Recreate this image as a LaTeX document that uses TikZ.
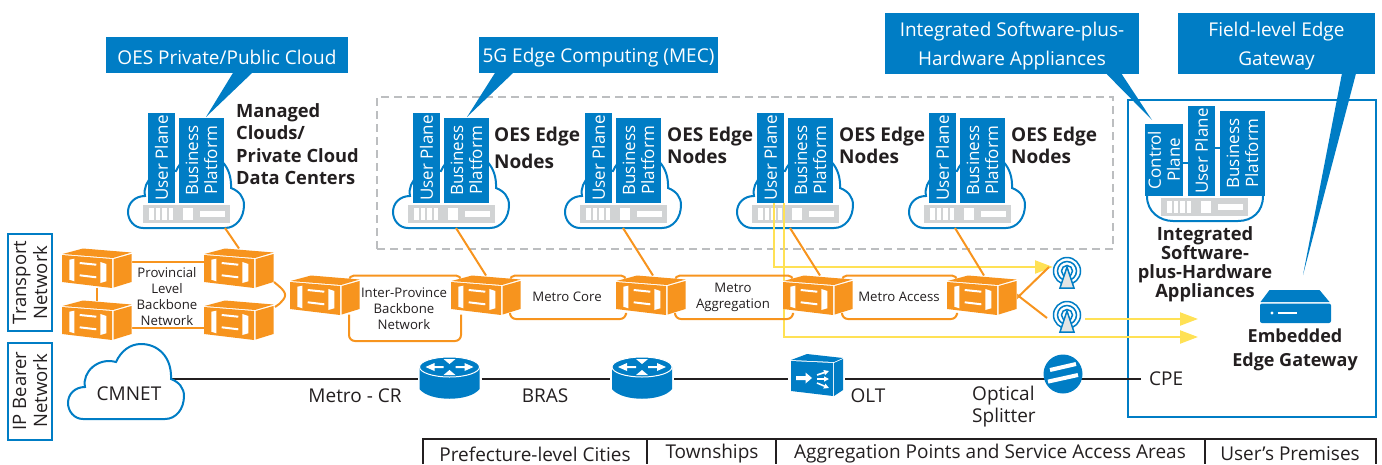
\documentclass[tikz,border=0pt]{standalone}
\usepackage{fontspec}
\setmainfont{Open Sans}
\usepackage{xcolor}
\usetikzlibrary{arrows.meta}

\definecolor{oesblue}{HTML}{007DC5}
\definecolor{oesorange}{HTML}{F7941E}
\definecolor{oesyellow}{HTML}{FFE155}
\definecolor{oesgrey}{HTML}{D1D3D4}
\definecolor{oesdash}{HTML}{BCBEC0}
\definecolor{oesink}{HTML}{231F20}

\newcommand{\calstrut}{\rule{0pt}{20pt}}

\tikzset{
  txt/.style={inner sep=0,text=oesink,align=center,font=\fontsize{19}{22}\selectfont},
  smalltxt/.style={txt,font=\fontsize{13.2}{16}\selectfont},
  boldtxt/.style={txt,font=\fontsize{18.3}{22.4}\selectfont\bfseries},
  edgetxt/.style={txt,anchor=west,align=left,font=\fontsize{19}{22}\selectfont\bfseries},
  bluebox/.style={fill=oesblue,text=white,inner sep=0,align=center,font=\fontsize{17}{19}\selectfont},
  callout/.style={fill=oesblue,text=white,inner sep=0,align=center,font=\fontsize{19}{29}\selectfont},
  sidebox/.style={draw=oesblue,line width=2pt,inner sep=0,align=center,text=oesink,
    minimum width=97pt,minimum height=44pt,rotate=90,font=\fontsize{18.5}{21}\selectfont},
  blueline/.style={draw=oesblue,line width=2pt},
  orangeline/.style={draw=oesorange,line width=2pt},
  yellowline/.style={draw=oesyellow,line width=2.2pt},
  yellowarrow/.style={yellowline,-{Triangle[length=18pt,width=13pt]}},
  wireline/.style={draw=oesink,line width=2pt},
  tableline/.style={draw=oesink,line width=2pt},
  ghost/.style={inner sep=0,outer sep=0},
  % orange transport box, origin in its middle
  switchbox/.pic={
    \node[ghost,minimum width=70pt,minimum height=39pt] (-n) {};
    \fill[white] (-35,-14) -- (-14,-19.5) -- (35,-15.5) -- (35,14) -- (16,20) -- (-35,14) -- cycle;
    \fill[oesorange] (-35,-13) -- (15,-9) -- (15,20) -- (-35,14) -- cycle;
    \fill[oesorange] (-34.5,-14) -- (-14,-19.5) -- (34.5,-15.5) -- (16,-10) -- cycle;
    \fill[oesorange] (16.7,-9) -- (34.5,-14) -- (34.5,14) -- (16.7,19.5) -- cycle;
    \fill[white] (-27.7,-8.3) -- (-22.7,-9.3) -- (-22.7,13.3) -- (-27.7,11.7) -- cycle;
    \fill[white] (3.3,-6) -- (9.3,-4) -- (9.3,13.3) -- (3.3,15) -- cycle;
    \draw[white,line width=2pt] (-17.3,-5) -- (-.7,-3.3);
    \draw[white,line width=2pt] (-17.3,7.3) -- (-.7,9.3);
  },
  % cloud outline, origin at its lower left
  cloudpic/.pic={
    \node[ghost,minimum width=116pt,minimum height=75pt] (-n) at (58,-37.5) {};
    \draw[blueline,fill=white] (15,0) .. controls (6,0) and (0,-8) .. (0,-16)
      .. controls (0,-25) and (7,-32) .. (17,-32)
      .. controls (14,-47) and (30,-62) .. (48,-57)
      .. controls (53,-68) and (62,-75) .. (73,-75)
      .. controls (90,-75) and (104,-62) .. (103,-40)
      .. controls (111,-37) and (116,-31) .. (116,-23)
      .. controls (116,-10) and (108,0) .. (97,0) -- cycle;
  },
  % grey server front, origin at the lower left of the bar
  serverbar/.pic={
    \fill[oesgrey] (0,-18) rectangle (87,0);
    \foreach \sx in {6,12.5,19,25.5}
      \fill[white] (\sx,-15) rectangle ++(4.6,12);
    \fill[white] (39.5,-15) rectangle ++(10,12);
    \fill[white] (57,-12.3) rectangle ++(25,6);
  },
  % cloud with its two blocks
  oesnode/.pic={
    \pic (-cl) at (0,0) {cloudpic};
    \pic at (15,-5) {serverbar};
    \node[bluebox,rotate=90,minimum width=90pt,minimum height=27pt] (-up) at (33.5,-70) {User Plane};
    \node[bluebox,rotate=90,minimum width=85pt,minimum height=45pt] (-bp) at (73.5,-67.5) {Business\\Platform};
  },
  routerpic/.pic={
    \node[ghost,minimum width=64pt,minimum height=44pt] (-n) {};
    \fill[oesblue] (-30,-12) -- (-30,10) .. controls (-20,23) and (20,23) .. (30,10) -- (30,-12) -- cycle;
    \draw[white,line width=1pt,fill=oesblue] (0,-12) ellipse [x radius=30,y radius=10];
    \fill[white] (-24,-12) -- (-15,-16) -- (-15,-13) -- (-6,-13) -- (-6,-11) -- (-15,-11) -- (-15,-8) -- cycle;
    \fill[white] (24,-12) -- (15,-16) -- (15,-13) -- (6,-13) -- (6,-11) -- (15,-11) -- (15,-8) -- cycle;
    \fill[white] (-6,-20) -- (6,-20) -- (0,-15) -- cycle;
    \fill[white] (-6,-4) -- (6,-4) -- (0,-9) -- cycle;
  },
  oltpic/.pic={
    \node[ghost,minimum width=57pt,minimum height=44pt] (-n) {};
    \fill[oesblue] (-25.5,-18) -- (16.5,-16) -- (16.5,17) -- (-25.5,12) -- cycle;
    \fill[oesblue] (-25.5,-19) -- (-9.5,-25) -- (26.5,-21) -- (17.5,-17) -- cycle;
    \fill[oesblue] (17.5,-16) -- (26.5,-20) -- (26.5,11) -- (17.5,17) -- cycle;
    \fill[white] (-20.5,-3) -- (-11,-3) -- (-11,-6.5) -- (-4.5,-1) -- (-11,4.5) -- (-11,1) -- (-20.5,1) -- cycle;
    \draw[white,line width=1.6pt,-{Triangle[length=5pt,width=5pt]}] (.5,-4) -- (12.5,-8);
    \draw[white,line width=1.6pt,-{Triangle[length=5pt,width=5pt]}] (.5,0) -- (12.5,0);
    \draw[white,line width=1.6pt,-{Triangle[length=5pt,width=5pt]}] (.5,4) -- (12.5,9);
  },
  antennapic/.pic={
    \node[ghost,circle,minimum size=28pt] (-n) {};
    \draw[draw=oesblue,line width=1.5pt] (0,0) circle [radius=13.5];
    \draw[draw=oesblue,line width=1.5pt] (0,0) circle [radius=9.5];
    \draw[draw=oesblue,line width=1.5pt] (0,0) circle [radius=5.5];
    \draw[draw=oesblue,line width=1.5pt,fill=oesgrey!60] (0,-4) -- (7,17) -- (-7,17) -- cycle;
  },
  splitterpic/.pic={
    \node[circle,fill=oesblue,inner sep=0,minimum size=39pt] (-n) {};
    \draw[white,line width=4pt] (-15,7.6) -- (15,1);
    \draw[white,line width=4pt] (-13,-4) -- (13,-10);
  },
  gatewaypic/.pic={
    \node[ghost,minimum width=71pt,minimum height=33pt] (-n) {};
    \fill[oesblue] (-26,-16.5) -- (24,-16.5) -- (34,-4.5) -- (-35,-4.5) -- cycle;
    \fill[oesblue,rounded corners=2pt] (-35.5,-3) -- (35.5,-3) -- (35.5,16.5) -- (-35.5,16.5) -- cycle;
    \fill[white] (-23.5,6.5) circle [radius=1.6];
    \draw[white,line width=1.2pt] (-18,6.5) -- (1,6.5);
  },
}

% two rounded orange runs between neighbouring switches
\newcommand{\metroloop}[3]{
  \draw[orangeline,rounded corners=5pt] ([shift={(-11pt,-3pt)}]#1-n.north east)
    -- ([xshift=-11pt]#1-n.north east) -- ([xshift=10pt]#2-n.north west)
    -- ([shift={(10pt,-3pt)}]#2-n.north west);
  \draw[orangeline,rounded corners=6pt] ([xshift=-11pt]#1-n.south east)
    -- ([shift={(-11pt,-#3)}]#1-n.south east) -- ([shift={(10pt,-#3)}]#2-n.south west)
    -- ([xshift=10pt]#2-n.south west);
}

\begin{document}
\begin{tikzpicture}[x=1pt,y=-1pt]
  \useasboundingbox (0,0) rectangle (1382,464);

  % dashed area and user premises frame
  \node[draw=oesdash,dash pattern=on 8pt off 5pt,line width=2pt,minimum width=736pt,minimum height=152pt,inner sep=0] (area) at (745,173) {};
  \node[blueline,minimum width=248pt,minimum height=317pt,inner sep=0] (prem) at (1252,258.5) {};

  % side labels
  \node[sidebox] (transport) at (30,282.5) {Transport\\Network};
  \node[sidebox] (bearer) at (30,391) {IP Bearer\\Network};

  % switches are placed now, drawn below, so that lines can lie behind them
  \path (97,268) coordinate (sw1c) (239,268) coordinate (sw2c)
    (97,320) coordinate (sw3c) (239,320) coordinate (sw4c)
    (325,295) coordinate (sw5c) (486,295) coordinate (sw6c)
    (651,295) coordinate (sw7c) (818,295) coordinate (sw8c) (982,295) coordinate (sw9c);
  \foreach \sw in {1,...,9}
    \path (sw\sw c) node[ghost,minimum width=70pt,minimum height=39pt] (sw\sw-n) {};

  \pic (o1) at (128,228) {oesnode};
  \pic (o2) at (393,228) {oesnode};
  \pic (o3) at (565,228) {oesnode};
  \pic (o4) at (737,228) {oesnode};
  \pic (o5) at (909,228) {oesnode};

  \pic (a1) at (1067,271) {antennapic};
  \pic (a2) at (1067,315) {antennapic};

  % yellow feeds
  \coordinate (gw1) at (1198,319);
  \coordinate (gw2) at (1198,337);
  \draw[yellowarrow] ([xshift=3.5pt]o4-up.west) |- ([yshift=4pt]a1-n.west);
  \draw[yellowarrow] ([xshift=13.5pt]o4-up.west) |- (gw2);
  \draw[yellowarrow] ([xshift=4pt]a2-n.east |- gw1) -- (gw1);

  % orange links
  \draw[orangeline] (sw1-n.east |- 0,262) -- (sw2-n.west |- 0,262);
  \draw[orangeline] (sw3-n.east |- 0,328) -- (sw4-n.west |- 0,328);
  \draw[orangeline] (sw1-n) -- (sw3-n);
  \draw[orangeline] (274,282) .. controls (281,288) and (289,293) .. (283,300) .. controls (281,303) and (278,305) .. (275,307);
  \draw[orangeline] ([xshift=39pt]o1-cl-n.south) -- (sw2-n.north);
  \draw[orangeline] ([xshift=5pt]o2-cl-n.south) -- (sw6-n.north);
  \draw[orangeline] (o3-cl-n.south) -- ([xshift=2pt]sw7-n.north);
  \draw[orangeline] ([xshift=-5pt]o4-cl-n.south) -- ([xshift=2pt]sw8-n.north);
  \draw[orangeline] ([xshift=-12pt]o5-cl-n.south) -- ([xshift=2pt]sw9-n.north);
  \draw[orangeline] ([shift={(-1pt,-4pt)}]sw9-n.east) -- ([shift={(-4pt,4pt)}]a1-n.west);
  \draw[orangeline] ([shift={(-1pt,1pt)}]sw9-n.east) -- ([shift={(-6pt,-3pt)}]a2-n.west);
  \metroloop{sw5}{sw6}{26.5pt}
  \metroloop{sw6}{sw7}{4.5pt}
  \metroloop{sw7}{sw8}{4.5pt}
  \metroloop{sw8}{sw9}{4.5pt}

  \pic at (sw1c) {switchbox};
  \pic at (sw2c) {switchbox};
  \pic at (sw3c) {switchbox};
  \pic at (sw4c) {switchbox};
  \pic at (sw5c) {switchbox};
  \pic at (sw6c) {switchbox};
  \pic at (sw7c) {switchbox};
  \pic at (sw8c) {switchbox};
  \pic at (sw9c) {switchbox};

  % appliance
  \node[bluebox,rotate=90,minimum width=72pt,minimum height=38pt] (cp) at (1164,160) {Control\\Plane};
  \node[bluebox,rotate=90,minimum width=90pt,minimum height=27pt] (up) at (1201.5,151) {User Plane};
  \node[bluebox,rotate=90,minimum width=85pt,minimum height=45pt] (bp) at (1242.5,153.5) {Business\\Platform};
  \draw[blueline] (cp.south |- 0,163) -- (up.north |- 0,163);
  \draw[blueline] (up.south |- 0,148) -- (bp.north |- 0,148);
  \draw[blueline] (cp.west) ++(-17,0) .. controls (1147,212) and (1160,221) .. (1173,221)
    -- (1238,221) .. controls (1252,221) and (1263,212) .. (1263,196);
  \pic at (1161,216) {serverbar};

  % IP bearer line
  \draw[wireline] (171,379) -- (417.5,379);
  \pic (cmnet) at (68,419) {cloudpic};
  \pic (r1) at (449.5,379) {routerpic};
  \pic (r2) at (642,379) {routerpic};
  \pic (olt) at (816.5,379) {oltpic};
  \node[txt,anchor=west,inner xsep=8pt] (cpe) at (1141,379) {CPE};
  \draw[wireline] (r1-n.east) -- (r2-n.west);
  \draw[wireline] (r2-n.east) -- (olt-n.west);
  \draw[wireline] (olt-n.east) -- (cpe.west);
  \pic (sp) at (1063,374) {splitterpic};
  \pic (gw) at (1295.5,306.5) {gatewaypic};

  % callouts
  \node[callout,minimum width=242pt,minimum height=36pt] (c1) at (227,55) {\calstrut OES Private/Public Cloud};
  \node[callout,minimum width=239pt,minimum height=36pt] (c2) at (598.5,55) {\calstrut 5G Edge Computing (MEC)};
  \node[callout,minimum width=254pt,minimum height=61pt] (c3) at (1012,43.5) {\calstrut Integrated Software-plus-\\Hardware Appliances};
  \node[callout,minimum width=197pt,minimum height=61pt] (c4) at (1276.5,43.5) {\calstrut Field-level Edge\\Gateway};
  \coordinate (t1) at (206,117);
  \coordinate (t2) at (467,117);
  \coordinate (t3) at (1152,120);
  \coordinate (t4) at (1303,275);
  \fill[oesblue] ([xshift=127pt]c1.south west) -- (t1) -- ([xshift=146pt]c1.south west) -- cycle;
  \fill[oesblue] ([xshift=16pt]c2.south west) -- (t2) -- ([xshift=34pt]c2.south west) -- cycle;
  \fill[oesblue] ([xshift=222pt]c3.south west) -- (t3) -- ([xshift=237pt]c3.south west) -- cycle;
  \fill[oesblue] ([xshift=164pt]c4.south west) -- (t4) -- ([xshift=178pt]c4.south west) -- cycle;

  % texts
  \node[boldtxt,anchor=west,align=left] (managed) at (236,144) {Managed\\Clouds/\\Private Cloud\\Data Centers};
  \node[edgetxt,font=\fontsize{19}{27}\selectfont\bfseries] (edge1) at (494,147.5) {OES Edge\\Nodes};
  \node[edgetxt] (edge2) at (667,145) {OES Edge\\Nodes};
  \node[edgetxt] (edge3) at (839,145) {OES Edge\\Nodes};
  \node[edgetxt] (edge4) at (1011,145) {OES Edge\\Nodes};
  \node[boldtxt,font=\fontsize{18.3}{19}\selectfont\bfseries] (integ) at (1205,264) {Integrated\\Software-\\plus-Hardware\\Appliances};
  \node[boldtxt,font=\fontsize{18}{24}\selectfont\bfseries] (embed) at (1295,350) {Embedded\\Edge Gateway};
  \node[smalltxt] (prov) at (167,297) {Provincial\\Level\\Backbone\\Network};
  \node[smalltxt] (inter) at (404,309) {Inter-Province\\Backbone\\Network};
  \node[smalltxt] (mcore) at (567,297) {Metro Core};
  \node[smalltxt] (magg) at (733,297.5) {Metro\\Aggregation};
  \node[smalltxt] (macc) at (899,297) {Metro Access};
  \node[txt] at (129,394) (cmtxt) {CMNET};
  \node[txt] (crtxt) at (355,396) {Metro - CR};
  \node[txt] (brtxt) at (545,396) {BRAS};
  \node[txt] (oltxt) at (868,396) {OLT};
  \node[txt,align=left,anchor=west] (sptxt) at (972,407) {Optical\\Splitter};

  % premises table
  \node[txt] (t-city) at (535,454) {Prefecture-level Cities};
  \node[txt] (t-town) at (712,454) {Townships};
  \node[txt] (t-agg) at (990,454) {Aggregation Points and Service Access Areas};
  \node[txt] (t-user) at (1290,454) {User's Premises};
  \draw[tableline] (423,464) |- (1376,439) -- (1376,464);
  \draw[tableline] (647,439) -- (647,464);
  \draw[tableline] (776,439) -- (776,464);
  \draw[tableline] (1205,439) -- (1205,464);
\end{tikzpicture}
\end{document}
